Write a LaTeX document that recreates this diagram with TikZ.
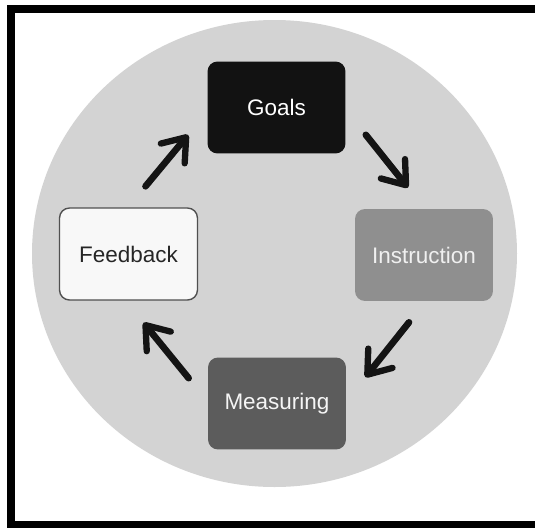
\documentclass[tikz,border=0pt]{standalone}
\usepackage{fontspec}
\setmainfont{Liberation Sans}
\usetikzlibrary{positioning, arrows.meta}

\definecolor{wheelgray}{RGB}{211,211,211}
\definecolor{goalfill}{RGB}{18,18,18}
\definecolor{instrfill}{RGB}{143,143,143}
\definecolor{measfill}{RGB}{92,92,92}
\definecolor{fbfill}{RGB}{248,248,248}
\definecolor{fbline}{RGB}{80,80,80}

\begin{document}
\begin{tikzpicture}[
    x=0.02cm, y=-0.02cm,
    box/.style={rounded corners=0.2cm, minimum width=2.76cm, minimum height=1.84cm,
                inner sep=0pt, align=center, font=\fontsize{12.8}{15}\selectfont},
    goalbox/.style={box, fill=goalfill, text=white},
    instrbox/.style={box, fill=instrfill, text=white!94!black},
    measbox/.style={box, fill=measfill, text=white!96!black},
    fbbox/.style={box, fill=fbfill, draw=fbline, line width=0.8pt, text=black!85},
    arr/.style={-{Straight Barb[length=0.42cm, width=0.62cm, line width=3.6pt, round]},
                line width=3.8pt, line cap=round, color=black!92},
]
\useasboundingbox (0,0) rectangle (535,528);

% frame and background wheel
\draw[line width=0.16cm] (545,9) -- (11,9) -- (11,524.5) -- (545,524.5);
\fill[wheelgray] (274.5,253.5) ellipse [x radius=242.5, y radius=233.5];

% the four stages
\node[goalbox] (goals) at (276.5,107.5) {Goals};
\node[instrbox] (instruction) at (424,255) {Instruction};
\node[measbox] (measuring) at (277,403.5) {Measuring};
\node[fbbox] (feedback) at (128.5,254) {Feedback};

% cycle arrows
\draw[arr] ([shift={(17,-21)}]feedback.north) -- ([shift={(-19,-19)}]goals.south west);
\draw[arr] ([shift={(20,-19)}]goals.south east) -- ([shift={(-16,-21)}]instruction.north);
\draw[arr] ([shift={(-15,21)}]instruction.south) -- ([shift={(19,20)}]measuring.north east);
\draw[arr] ([shift={(-19,21)}]measuring.north west) -- ([shift={(15,22)}]feedback.south);

\end{tikzpicture}
\end{document}
